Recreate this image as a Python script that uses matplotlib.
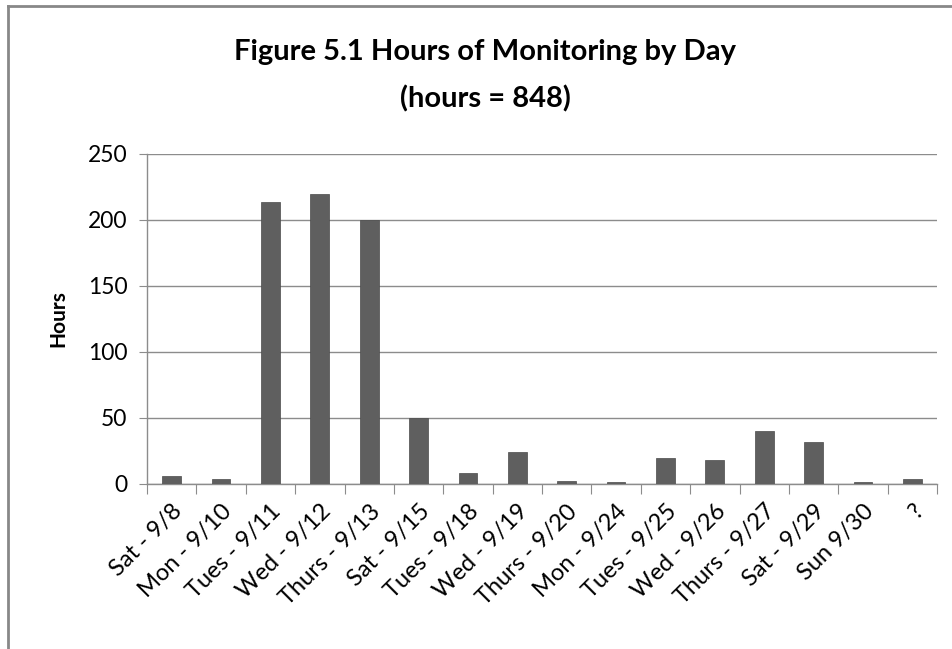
import matplotlib
matplotlib.use("Agg")
import matplotlib.pyplot as plt
from matplotlib.lines import Line2D
import numpy as np

categories = ["Sat - 9/8", "Mon - 9/10", "Tues - 9/11", "Wed - 9/12", "Thurs - 9/13",
              "Sat - 9/15", "Tues - 9/18", "Wed - 9/19", "Thurs - 9/20", "Mon - 9/24",
              "Tues - 9/25", "Wed - 9/26", "Thurs - 9/27", "Sat - 9/29", "Sun 9/30", "?"]
hours = [6, 4, 214, 220, 200, 50, 8, 24, 2.5, 1.5, 20, 18, 40, 32, 1.5, 4]
yticks = [0, 50, 100, 150, 200, 250]

plt.rcParams['font.family'] = ['Lato', 'DejaVu Sans']

fig = plt.figure(figsize=(9.53, 6.49), dpi=100)
ax = fig.add_axes([147/953, 1-484/649, (937-147)/953, (484-154)/649])

x = np.arange(len(categories))
ax.bar(x, hours, width=0.38, color="#5f5f5f", edgecolor="#4a4a4a", linewidth=0.5, zorder=3)

ax.set_xlim(-0.5, len(categories)-0.5)
ax.set_ylim(0, 250)
ax.set_yticks(yticks)
ax.set_yticklabels([str(v) for v in yticks], fontsize=16.5)
ax.yaxis.grid(True, color="#8c8c8c", linewidth=1.0, zorder=0)
ax.set_axisbelow(True)

ax.set_xticks(np.arange(-0.5, len(categories), 1.0), minor=False)
ax.set_xticklabels([])
ax.set_xticks(x, minor=True)
ax.set_xticklabels(categories, minor=True, rotation=45, ha="right", rotation_mode="anchor", fontsize=17)
ax.tick_params(axis="x", which="major", length=7, color="#8c8c8c", direction="out")
ax.tick_params(axis="x", which="minor", length=0, pad=12)
ax.tick_params(axis="y", length=6, color="#8c8c8c", direction="out", pad=8)

for s in ["top", "right"]:
    ax.spines[s].set_visible(False)
for s in ["left", "bottom"]:
    ax.spines[s].set_color("#8c8c8c")
    ax.spines[s].set_linewidth(1.0)

ax.set_ylabel("Hours", fontsize=15, fontweight="bold", labelpad=14)

fig.text(485/953, 1-52/649, "Figure 5.1 Hours of Monitoring by Day", ha="center", va="center",
         fontsize=21, fontweight="bold")
fig.text(485/953, 1-99/649, "(hours = 848)", ha="center", va="center",
         fontsize=21, fontweight="bold")

fig.add_artist(Line2D([8/953, 8/953], [0, 1-6/649], transform=fig.transFigure, color="#888888", linewidth=2))
fig.add_artist(Line2D([8/953, 1], [1-6/649, 1-6/649], transform=fig.transFigure, color="#888888", linewidth=2))

fig.savefig("out.png", dpi=100)
